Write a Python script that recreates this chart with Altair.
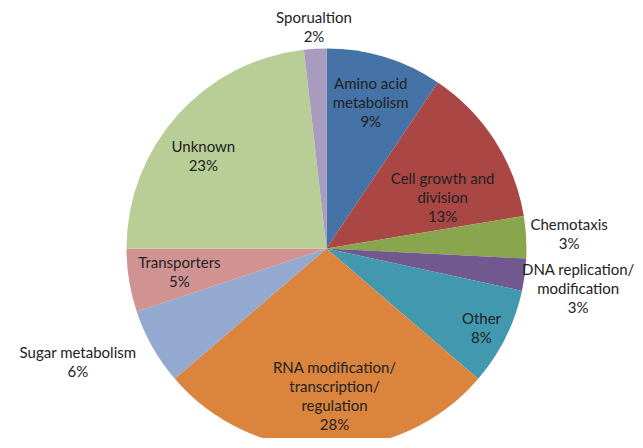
import altair as alt
import pandas as pd

categories = [
    "Amino acid metabolism", "Cell growth and division", "Chemotaxis",
    "DNA replication/modification", "Other",
    "RNA modification/transcription/regulation", "Sugar metabolism",
    "Transporters", "Unknown", "Sporualtion",
]
values = [9.4, 13.0, 3.4, 2.6, 7.9, 27.4, 6.2, 5.1, 23.2, 1.8]
labels = [
    "Amino acid\nmetabolism\n9%",
    "Cell growth and\ndivision\n13%",
    "Chemotaxis\n3%",
    "DNA replication/\nmodification\n3%",
    "Other\n8%",
    "RNA modification/\ntranscription/\nregulation\n28%",
    "Sugar metabolism\n6%",
    "Transporters\n5%",
    "Unknown\n23%",
    "Sporualtion\n2%",
]
colors = ["#4572A7", "#AA4643", "#89A54E", "#71588F", "#4198AF",
          "#DB843D", "#93A9CF", "#D19392", "#B9CD96", "#A99BBD"]

# label layout (style): radius from centre and small nudges
LINE_H = 19
label_radius = [152, 125, 243, 266, 172, 148, 272, 149, 153, 221]
label_dx = [0, 11, 0, -12, 1, 8, -12, 0, -9, 0]
label_dy = [0, 17, 0, 6, 3, 0, -20, 0, 10, 0]

df = pd.DataFrame({"cat": categories, "value": values, "label": labels,
                   "idx": list(range(len(categories)))})
total = float(sum(values))
theta_scale = alt.Scale(domain=[0, total])

base = alt.Chart(df)

pie = base.mark_arc(radius=200).encode(
    theta=alt.Theta("value:Q", stack=True, scale=theta_scale),
    color=alt.Color("cat:N", scale=alt.Scale(domain=categories, range=colors), legend=None),
    order=alt.Order("idx:Q"),
)

layers = [pie]
for i in range(len(categories)):
    n_lines = labels[i].count("\n") + 1
    t = (
        base.transform_window(cum="sum(value)", sort=[alt.SortField("idx")])
        .transform_calculate(mid="datum.cum - datum.value / 2")
        .transform_filter(alt.datum.idx == i)
        .mark_text(
            radius=label_radius[i], dx=label_dx[i],
            dy=label_dy[i] - (n_lines - 1) * LINE_H / 2,
            font="Lato", fontSize=15, lineHeight=LINE_H, lineBreak="\n",
            align="center", baseline="middle", color="#222222",
        )
        .encode(theta=alt.Theta("mid:Q", scale=theta_scale), text="label:N")
    )
    layers.append(t)

chart = (
    alt.layer(*layers)
    .properties(
        width=617, height=379,
        autosize=alt.AutoSizeParams(type="none"),
        padding={"left": 10, "top": 51, "right": 0, "bottom": 0},
        background="white",
    )
    .configure_view(stroke=None)
)

chart.save("out.html", embed_options={"renderer": "svg", "actions": False})
